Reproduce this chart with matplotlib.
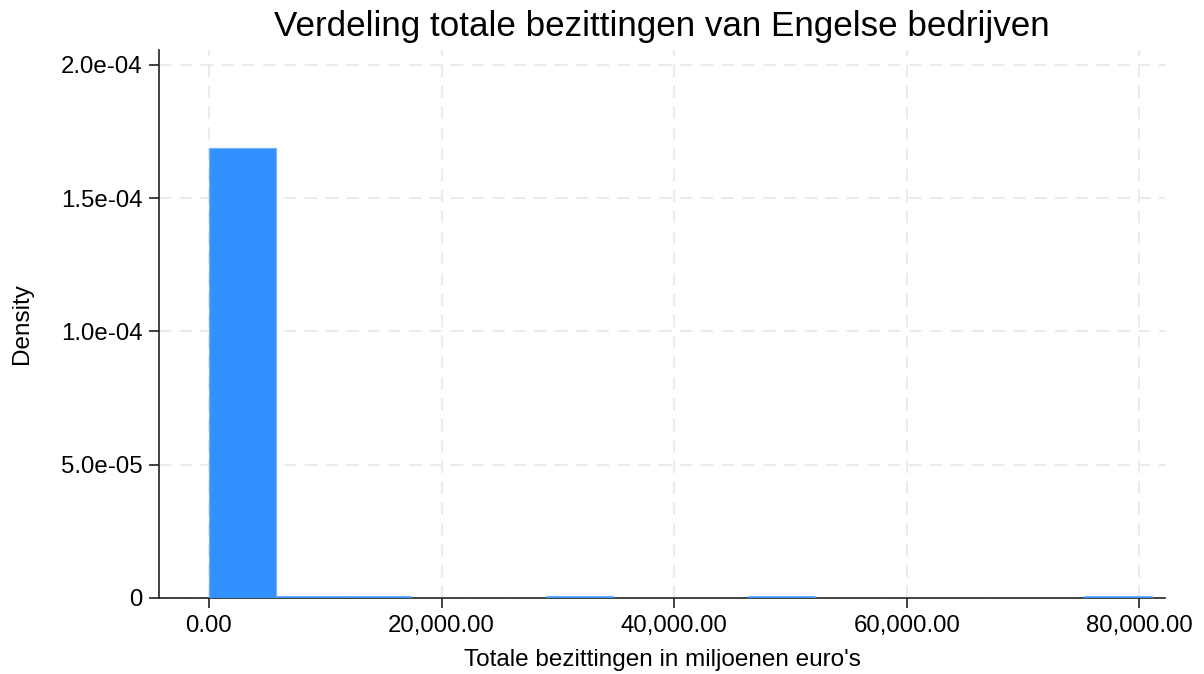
import numpy as np
import matplotlib
matplotlib.use("Agg")
import matplotlib.pyplot as plt
from matplotlib.ticker import FuncFormatter

# Histogram of total assets (million euro): 14 equal-width bins
bin_edges = np.linspace(0, 81060, 15)
bin_counts = [211, 1, 1, 0, 0, 1, 0, 0, 1, 0, 0, 0, 0, 1]
x_ticks = [0, 20000, 40000, 60000, 80000]
y_ticks = [0, 5e-5, 1e-4, 1.5e-4, 2e-4]

title = "Verdeling totale bezittingen van Engelse bedrijven"
xlabel = "Totale bezittingen in miljoenen euro's"
ylabel = "Density"

plt.rcParams['font.family'] = ['Liberation Sans', 'DejaVu Sans']

fig = plt.figure(figsize=(12.04, 6.74), dpi=100)
ax = fig.add_axes([0.132, 0.1128, 0.8356, 0.8132])

centers = (bin_edges[:-1] + bin_edges[1:]) / 2
ax.hist(centers, bins=bin_edges, weights=bin_counts, density=True,
        color="#3391ff", edgecolor="#6fb0ff", linewidth=0.8, zorder=3)

ax.set_xlim(-4300, 82200)
ax.set_ylim(0, 2.056e-4)
ax.set_xticks(x_ticks)
ax.set_yticks(y_ticks)
ax.xaxis.set_major_formatter(FuncFormatter(lambda v, p: f"{v:,.2f}"))
ax.yaxis.set_major_formatter(FuncFormatter(lambda v, p: "0" if v == 0 else f"{v:.1e}"))

ax.grid(True, color="#ebebeb", linestyle=(0, (6, 4)), linewidth=1.5, zorder=0)
for s in ("top", "right"):
    ax.spines[s].set_visible(False)
for s in ("left", "bottom"):
    ax.spines[s].set_color("#222222")
    ax.spines[s].set_linewidth(1.2)
ax.tick_params(axis="both", direction="out", length=7, width=1.2,
               color="#222222", labelsize=17.3, pad=5)

ax.set_title(title, fontsize=25.2, pad=10)
ax.set_xlabel(xlabel, fontsize=17.5, labelpad=9)
ax.set_ylabel(ylabel, fontsize=17.5, labelpad=20)

fig.savefig("out.png", dpi=100, facecolor="white")
